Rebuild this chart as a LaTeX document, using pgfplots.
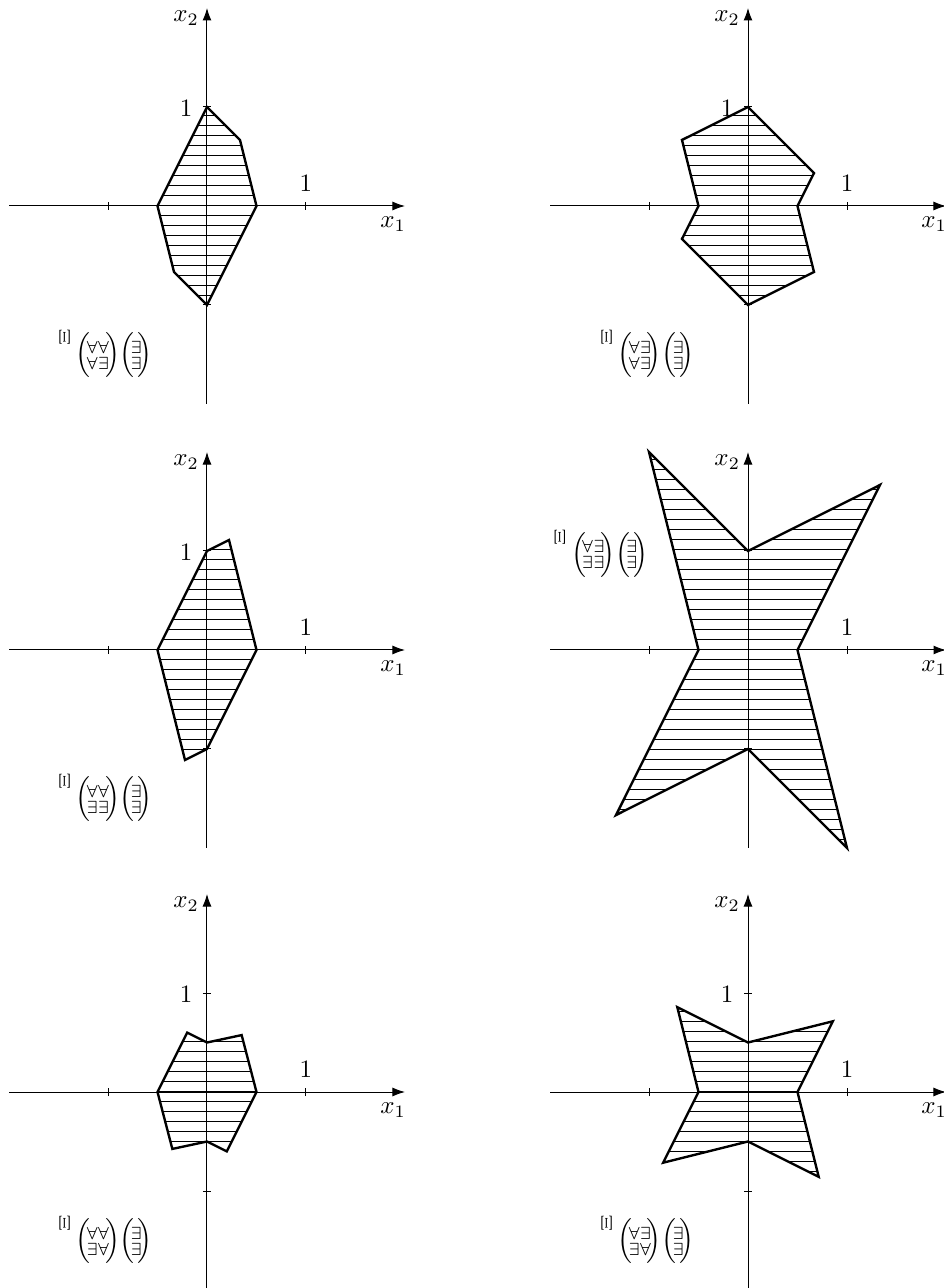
\documentclass[border=0pt]{standalone}
\usepackage{amsmath}
\usepackage{graphicx}
\usepackage{pgfplots}
\pgfplotsset{compat=1.18}
\usetikzlibrary{arrows.meta,patterns.meta}

% horizontal hatching, 0.1 unit apart; tiles overlap so no seams
\newcommand\declarehatch[2]{%
  \tikzdeclarepattern{
    name=#1,
    type=uncolored,
    tile size={(40pt,4pt)},
    bounding box={(-2pt,-1pt) and (42pt,3pt)},
    tile transformation={yshift=#2},
    code={\pgfpathrectangle{\pgfpoint{-2pt}{-0.2pt}}{\pgfpoint{44pt}{0.4pt}}\pgfusepath{fill}}
  }}
\declarehatch{hatchA}{0.8pt}
\declarehatch{hatchB}{3.2pt}
\declarehatch{hatchC}{2.4pt}

\pgfplotsset{
  panel/.style={
    axis lines=middle, x=39.6pt, y=39.6pt,
    xmin=-2, xmax=2, ymin=-2, ymax=2,
    xtick={-1,1}, ytick={-1,1}, xticklabels={}, yticklabels={},
    tick align=center, major tick length=3.2pt,
    tick style={black, line width=0.4pt},
    axis line style={line width=0.4pt, -{Latex[length=5pt,width=3.6pt]}},
    anchor=origin, clip=false,
  },
  hatch/.style={draw=black, line width=0.95pt, pattern=#1, pattern color=black},
}

% axis texts shared by all panels
\newcommand\panelmarks{%
  \node at (axis cs:1,0.23) {1};
  \node at (axis cs:1.88,-0.18) {$x_1$};
  \node at (axis cs:-0.21,1.9) {$x_2$};
}
\newcommand\yone{\node at (axis cs:-0.21,0.99) {1};}
\newcommand\quant[2]{\raisebox{6.3pt}{\resizebox{4.2pt}{6.6pt}{\rotatebox{90}{$\Xi$}}}\hspace{2.4pt}$\Bigl(\!\!\begin{smallmatrix}#1\\#2\end{smallmatrix}\!\!\Bigr)\Bigl(\!\!\begin{smallmatrix}\exists\\\exists\end{smallmatrix}\!\!\Bigr)$}

\begin{document}
\begin{tikzpicture}
\path[use as bounding box] (0,0) rectangle (377.6pt,515.2pt);

% row 1
\begin{axis}[panel, at={(82.8pt,432.8pt)}]
  \addplot[hatch=hatchA] coordinates {(0,1) (0.333,0.667) (0.5,0) (0,-1) (-0.333,-0.667) (-0.5,0)} -- cycle;
  \panelmarks \yone
  \node at (axis cs:-1.02,-1.49) {\quant{\forall\forall}{\forall\exists}};
\end{axis}
\begin{axis}[panel, at={(299.2pt,432.8pt)}]
  \addplot[hatch=hatchA] coordinates {(0,1) (0.667,0.333) (0.5,0) (0.667,-0.667) (0,-1) (-0.667,-0.333) (-0.5,0) (-0.667,0.667)} -- cycle;
  \panelmarks \yone
  \node at (axis cs:-1.01,-1.49) {\quant{\forall\exists}{\forall\exists}};
\end{axis}

% row 2
\begin{axis}[panel, at={(82.8pt,255.2pt)}]
  \addplot[hatch=hatchB] coordinates {(0,1) (0.222,1.111) (0.5,0) (0,-1) (-0.222,-1.111) (-0.5,0)} -- cycle;
  \panelmarks \yone
  \node at (axis cs:-1.02,-1.49) {\quant{\forall\forall}{\exists\exists}};
\end{axis}
\begin{axis}[panel, at={(299.2pt,255.2pt)}]
  \addplot[hatch=hatchB] coordinates {(-1,2) (0,1) (1.333,1.667) (0.5,0) (1,-2) (0,-1) (-1.333,-1.667) (-0.5,0)} -- cycle;
  \panelmarks
  \node at (axis cs:-1.48,0.98) {\quant{\forall\exists}{\exists\exists}};
\end{axis}

% row 3
\begin{axis}[panel, at={(82.8pt,78.4pt)}]
  \addplot[hatch=hatchC] coordinates {(-0.2,0.6) (0,0.5) (0.35,0.575) (0.5,0) (0.2,-0.6) (0,-0.5) (-0.35,-0.575) (-0.5,0)} -- cycle;
  \panelmarks \yone
  \node at (axis cs:-1.02,-1.49) {\quant{\forall\forall}{\exists\forall}};
\end{axis}
\begin{axis}[panel, at={(299.2pt,78.4pt)}]
  \addplot[hatch=hatchC] coordinates {(0,0.5) (0.857,0.714) (0.5,0) (0.714,-0.857) (0,-0.5) (-0.857,-0.714) (-0.5,0) (-0.714,0.857)} -- cycle;
  \panelmarks \yone
  \node at (axis cs:-1.01,-1.49) {\quant{\forall\exists}{\exists\forall}};
\end{axis}
\end{tikzpicture}
\end{document}
